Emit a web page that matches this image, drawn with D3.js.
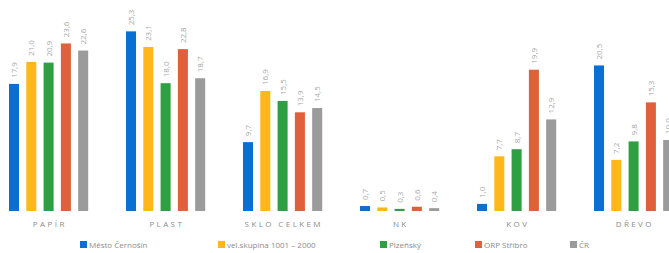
<!DOCTYPE html>
<html>
<head>
<meta charset="utf-8">
<script src="https://d3js.org/d3.v7.min.js"></script>
<style>
  body { margin: 0; background: #fff; }
  text { font-family: "Open Sans", "DejaVu Sans", sans-serif; }
  .val { font-size: 8px; fill: #a6a6a6; }
  .cat { font-size: 8px; fill: #8c8c8c; letter-spacing: 2.4px; }
  .leg { font-size: 8px; fill: #8c8c8c; }
</style>
</head>
<body>
<div id="chart"></div>
<script>
// data
const categories = ["PAPÍR", "PLAST", "SKLO CELKEM", "NK", "KOV", "DŘEVO"];
const series = ["Město Černošín", "vel.skupina 1001 – 2000", "Plzeňský", "ORP Stříbro", "ČR"];
const values = {
  "Město Černošín":          [17.9, 25.3, 9.7, 0.7, 1.0, 20.5],
  "vel.skupina 1001 – 2000": [21.0, 23.1, 16.9, 0.5, 7.7, 7.2],
  "Plzeňský":                [20.9, 18.0, 15.5, 0.3, 8.7, 9.8],
  "ORP Stříbro":             [23.6, 22.8, 13.9, 0.6, 19.9, 15.3],
  "ČR":                      [22.6, 18.7, 14.5, 0.4, 12.9, 10.0]
};
const colors = ["#0a6fd2", "#ffb71c", "#2ea043", "#e0603c", "#9b9b9b"];

const width = 669, height = 253;
const baseY = 211;

const svg = d3.select("#chart").append("svg")
  .attr("width", width).attr("height", height);

const x0 = d3.scaleBand().domain(categories).range([-9.9, -9.9 + 117 * categories.length]);
const groupW = 79.2;
const x1 = d3.scaleBand().domain(series).range([0, groupW]).paddingInner(0.42).paddingOuter(0);
const y = d3.scaleLinear().domain([0, 28]).range([baseY, baseY - 28 * 7.1]);
const color = d3.scaleOrdinal().domain(series).range(colors);
const fmt = v => d3.format(".1f")(v).replace(".", ",");

const off = (x0.bandwidth() - groupW) / 2;

const groups = svg.selectAll("g.grp")
  .data(categories)
  .join("g")
  .attr("class", "grp")
  .attr("transform", d => `translate(${x0(d) + off},0)`);

const cells = groups.selectAll("g.cell")
  .data((c, i) => series.map(s => ({ s, v: values[s][i] })))
  .join("g")
  .attr("class", "cell");

cells.append("rect")
  .attr("x", d => x1(d.s))
  .attr("y", d => y(d.v))
  .attr("width", x1.bandwidth())
  .attr("height", d => baseY - y(d.v))
  .attr("fill", d => color(d.s));

cells.append("text")
  .attr("class", "val")
  .attr("transform", d => `translate(${x1(d.s) + x1.bandwidth() / 2 + 3},${y(d.v) - 6}) rotate(-90)`)
  .attr("text-anchor", "start")
  .text(d => fmt(d.v));

// category labels
svg.selectAll("text.cat")
  .data(categories)
  .join("text")
  .attr("class", "cat")
  .attr("x", d => x0(d) + x0.bandwidth() / 2 + 1.2)
  .attr("y", 227)
  .attr("text-anchor", "middle")
  .text(d => d);

// legend
const legendX = [80, 218, 380, 475, 570];
const legend = svg.selectAll("g.legend")
  .data(series)
  .join("g")
  .attr("class", "legend")
  .attr("transform", (d, i) => `translate(${legendX[i]},241)`);

legend.append("rect")
  .attr("width", 7).attr("height", 7)
  .attr("fill", d => color(d));

legend.append("text")
  .attr("class", "leg")
  .attr("x", 9).attr("y", 7)
  .text(d => d);
</script>
</body>
</html>
